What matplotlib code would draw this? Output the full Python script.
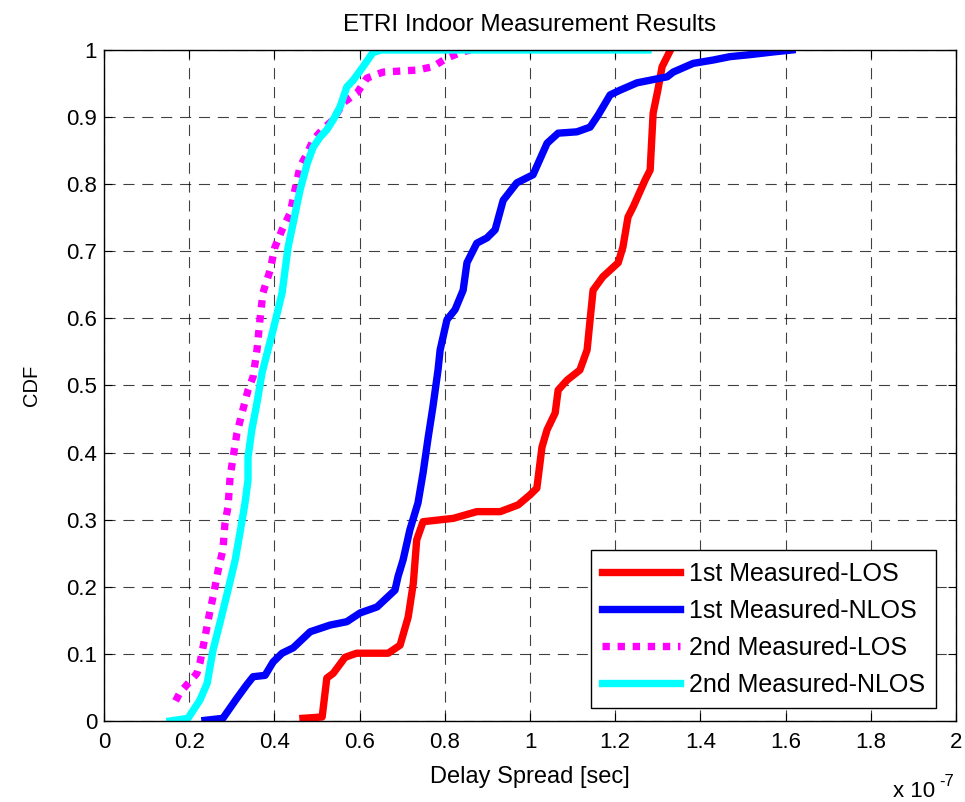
import numpy as np
import matplotlib
matplotlib.use('Agg')
import matplotlib.pyplot as plt

plt.rcParams['font.family'] = ['Liberation Sans', 'DejaVu Sans']

# delay spread in units of 1e-7 sec, CDF values
los1_x = [0.467, 0.512, 0.523, 0.538, 0.566, 0.593, 0.667, 0.695, 0.714, 0.726,
          0.734, 0.749, 0.82, 0.875, 0.93, 0.972, 1.0, 1.016, 1.028, 1.04, 1.059,
          1.066, 1.087, 1.117, 1.134, 1.141, 1.148, 1.171, 1.207, 1.218, 1.23,
          1.242, 1.27, 1.282, 1.286, 1.289, 1.30, 1.31, 1.329]
los1_y = [0.004, 0.006, 0.064, 0.071, 0.095, 0.101, 0.101, 0.113, 0.155, 0.205,
          0.27, 0.297, 0.302, 0.312, 0.312, 0.322, 0.337, 0.347, 0.408, 0.434, 0.459,
          0.493, 0.508, 0.523, 0.553, 0.598, 0.642, 0.662, 0.683, 0.706, 0.751,
          0.766, 0.806, 0.821, 0.87, 0.906, 0.94, 0.975, 0.999]

nlos1_x = [0.237, 0.279, 0.312, 0.335, 0.35, 0.378, 0.397, 0.418, 0.444, 0.484,
           0.531, 0.57, 0.601, 0.641, 0.683, 0.69, 0.702, 0.718, 0.737, 0.749,
           0.761, 0.772, 0.784, 0.789, 0.805, 0.824, 0.843, 0.852, 0.875, 0.899,
           0.918, 0.937, 0.969, 1.007, 1.04, 1.066, 1.11, 1.141, 1.16, 1.188,
           1.211, 1.251, 1.322, 1.336, 1.383, 1.43, 1.469, 1.516, 1.57, 1.615]
nlos1_y = [0.001, 0.004, 0.034, 0.054, 0.066, 0.068, 0.088, 0.101, 0.109, 0.133,
           0.143, 0.148, 0.161, 0.170, 0.195, 0.215, 0.24, 0.285, 0.325, 0.37,
           0.423, 0.468, 0.523, 0.553, 0.598, 0.613, 0.642, 0.683, 0.712, 0.72,
           0.732, 0.776, 0.802, 0.814, 0.861, 0.876, 0.878, 0.885, 0.903, 0.933,
           0.94, 0.951, 0.96, 0.967, 0.98, 0.985, 0.99, 0.993, 0.997, 1.0]

los2_x = [0.168, 0.178, 0.218, 0.225, 0.237, 0.249, 0.256, 0.268, 0.279, 0.284,
          0.291, 0.296, 0.303, 0.312, 0.324, 0.338, 0.35, 0.359, 0.366, 0.373,
          0.39, 0.401, 0.418, 0.437, 0.448, 0.46, 0.477, 0.491, 0.512, 0.538,
          0.561, 0.594, 0.617, 0.655, 0.734, 0.772, 0.805, 0.836, 0.859]
los2_y = [0.03, 0.042, 0.071, 0.086, 0.125, 0.165, 0.185, 0.225, 0.255, 0.295,
          0.319, 0.364, 0.393, 0.429, 0.459, 0.493, 0.513, 0.553, 0.598, 0.638,
          0.672, 0.706, 0.732, 0.757, 0.791, 0.826, 0.846, 0.866, 0.881, 0.896,
          0.921, 0.936, 0.958, 0.967, 0.97, 0.975, 0.988, 0.996, 1.0]

nlos2_x = [0.155, 0.197, 0.225, 0.242, 0.256, 0.272, 0.291, 0.308, 0.319, 0.331,
           0.338, 0.338, 0.347, 0.359, 0.371, 0.397, 0.418, 0.432, 0.444, 0.46,
           0.477, 0.491, 0.507, 0.523, 0.538, 0.554, 0.57, 0.585, 0.608, 0.631,
           0.65, 1.277]
nlos2_y = [0.0, 0.004, 0.031, 0.056, 0.106, 0.146, 0.195, 0.24, 0.28, 0.325,
           0.359, 0.393, 0.434, 0.474, 0.519, 0.583, 0.638, 0.706, 0.742, 0.791,
           0.831, 0.855, 0.87, 0.881, 0.896, 0.915, 0.945, 0.955, 0.975, 0.996,
           1.0, 1.0]

labels = ['1st Measured-LOS', '1st Measured-NLOS', '2nd Measured-LOS', '2nd Measured-NLOS']
xtick_labels = ['0', '0.2', '0.4', '0.6', '0.8', '1', '1.2', '1.4', '1.6', '1.8', '2']
ytick_labels = ['0', '0.1', '0.2', '0.3', '0.4', '0.5', '0.6', '0.7', '0.8', '0.9', '1']

fig = plt.figure(figsize=(9.65, 8.02), dpi=100)
ax = fig.add_axes([0.1078, 0.101, 0.8829, 0.8367])

lw = 5.3
ax.plot(los1_x, los1_y, color='#ff0000', lw=lw, label=labels[0])
ax.plot(nlos1_x, nlos1_y, color='#0000ff', lw=lw, label=labels[1])
ax.plot(los2_x, los2_y, color='#ff00ff', lw=lw, linestyle=(0, (1.0, 1.05)),
        dash_capstyle='butt', label=labels[2])
ax.plot(nlos2_x, nlos2_y, color='#00ffff', lw=lw, label=labels[3])

ax.set_xlim(0, 2)
ax.set_ylim(0, 1)
ax.set_xticks(np.linspace(0, 2, 11))
ax.set_xticklabels(xtick_labels)
ax.set_yticks(np.linspace(0, 1, 11))
ax.set_yticklabels(ytick_labels)
ax.tick_params(direction='in', labelsize=16, length=6, top=True, right=True)
ax.tick_params(axis='x', pad=8)
ax.tick_params(axis='y', pad=5)
ax.grid(True, color='black', linestyle=(0, (10, 7)), linewidth=0.8, alpha=0.75)
for s in ax.spines.values():
    s.set_linewidth(1.0)

ax.set_title('ETRI Indoor Measurement Results', fontsize=17.5, pad=14)
ax.set_xlabel('Delay Spread [sec]', fontsize=17, labelpad=9)
ax.set_ylabel('CDF', fontsize=14.5, labelpad=18)
# MATLAB-style exponent label
fig.text(893 / 965, 5 / 802, 'x 10', fontsize=16, ha='left', va='baseline')
fig.text(939 / 965, 16 / 802, '-7', fontsize=12, ha='left', va='baseline')

leg = ax.legend(loc='lower right', fontsize=18, frameon=True, fancybox=False,
                edgecolor='black', framealpha=1, handlelength=3.1,
                handletextpad=0.35, borderpad=0.45, labelspacing=0.52,
                borderaxespad=0, bbox_to_anchor=(0.9765, 0.0194))
leg.get_frame().set_linewidth(1.0)

fig.savefig('out.png', dpi=100)
